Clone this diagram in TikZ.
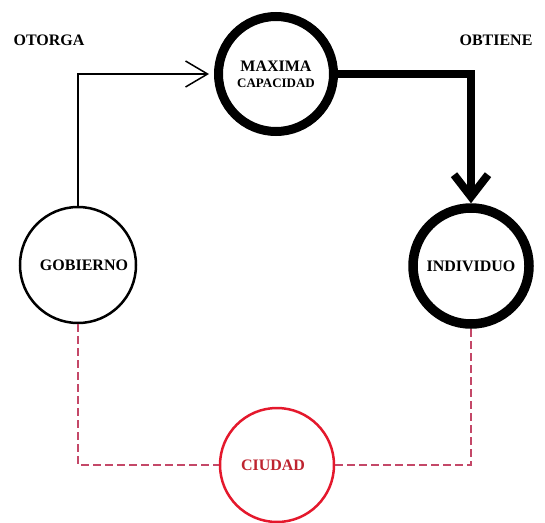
\documentclass[tikz,border=0pt]{standalone}
\usepackage{fontspec}
\setmainfont{Liberation Serif}
\usepackage{tikz}
\usetikzlibrary{arrows.meta}
\usetikzlibrary{calc}

\definecolor{cityred}{RGB}{228,24,44}
\definecolor{citytext}{RGB}{190,36,48}
\definecolor{linkred}{RGB}{196,72,104}

\begin{document}
\begin{tikzpicture}[x=1pt,y=-1pt]
\tikzstyle{place} = [circle, draw, minimum size=116pt, inner sep=0pt, align=center, font=\fontsize{16}{18}\selectfont\bfseries]
\tikzstyle{heavy} = [line width=9pt]
\tikzstyle{label} = [font=\fontsize{16}{18}\selectfont\bfseries]
\tikzstyle{link} = [draw=linkred, line width=1.4pt, dash pattern=on 8pt off 4pt]
\useasboundingbox (0,0) rectangle (545,522);

\node[label](o) at (49,40){OTORGA};
\node[label](t) at (496,40){OBTIENE};

\node[place,heavy,minimum size=115pt](m) at (276,74){MAXIMA\\[-2pt]{\fontsize{13}{14}\selectfont CAPACIDAD}};
\node[place,line width=2.5pt](g) at (78,265){\hspace*{12pt}GOBIERNO};
\node[place,heavy,line width=9.5pt](i) at (471,266){INDIVIDUO};
\node[place,draw=cityred,text=citytext,line width=2.5pt,minimum size=114pt](c) at (277,465){\hspace*{-8pt}CIUDAD};

% otorga: gobierno -> maxima capacidad
\draw[line width=1.5pt,-{Straight Barb[length=22pt,width=26pt]},shorten >=5pt] (g.north) |- (m.west);
% obtiene: maxima capacidad -> individuo
\draw[line width=8pt,-{Straight Barb[length=22pt,width=34pt]}] (m.east) -| (i.north);

\draw[link] (g.south) |- (c.west);
\draw[link] (c.east) -| (i.south);
\end{tikzpicture}
\end{document}
